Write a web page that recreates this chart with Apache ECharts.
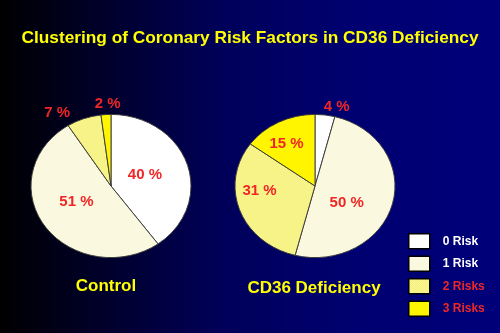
<!DOCTYPE html>
<html>
<head>
<meta charset="utf-8">
<script src="https://cdn.jsdelivr.net/npm/echarts@6/dist/echarts.min.js"></script>
<style>
  html, body { margin: 0; padding: 0; }
  #stage {
    position: relative; width: 500px; height: 333px; overflow: hidden;
    background: linear-gradient(to right, #000000 0%, #000020 15%, #00005a 45%, #000070 70%, #00007a 100%);
  }
  #pies, #overlay { position: absolute; left: 0; top: 0; width: 500px; height: 333px; }
</style>
</head>
<body>
<div id="stage">
  <div id="pies"></div>
  <div id="overlay"></div>
</div>
<script>
// ---- data ----
const riskLevels = ['0 Risk', '1 Risk', '2 Risks', '3 Risks'];
const controlShare = [40, 51, 7, 2];
const cd36Share = [4, 50, 31, 15];
const groupNames = ['Control', 'CD36 Deficiency'];
const chartTitle = 'Clustering of Coronary Risk Factors in CD36 Deficiency';

// ---- styling ----
const FONT = '"Liberation Sans", Arial, Helvetica, sans-serif';
const RED = '#F02626';
const YELLOW_TEXT = '#FFFF00';
const FLAT = 0.895;          // vertical squash of the discs
const centers = [[111, 186], [315, 186]];
const RADIUS = 80;
// small per-label nudges [dx, dy] for each pie
const labelNudge = [
  [[-7, 2], [1, -8], [-7, 7], [20, 3]],
  [[-7, 5], [-10, 6], [-15, -10], [-9, -4]]
];

function checker(a, b) {
  const c = document.createElement('canvas');
  c.width = 2; c.height = 2;
  const g = c.getContext('2d');
  g.fillStyle = a; g.fillRect(0, 0, 2, 2);
  g.fillStyle = b; g.fillRect(0, 0, 1, 1); g.fillRect(1, 1, 1, 1);
  return c;
}
const hatchCanvas = checker('#FFFFC8', '#F0E848');
const hatch = { image: hatchCanvas, repeat: 'repeat' };
const hatchFlat = { image: hatchCanvas, repeat: 'repeat', scaleY: 1 / FLAT };
const sliceColors = ['#FFFFFF', '#FAF8DF', hatch, '#FFF500'];
const discColors = ['#FFFFFF', '#FAF8DF', hatchFlat, '#FFF500'];

// ---- coloured discs ----
function discSeries(values, center) {
  return {
    type: 'pie', radius: RADIUS, center: center, startAngle: 90, clockwise: true,
    silent: true, animation: false,
    label: { show: false }, labelLine: { show: false },
    itemStyle: { borderColor: '#3a3a3a', borderWidth: 1 },
    data: riskLevels.map((n, i) => ({ name: n, value: values[i], itemStyle: { color: discColors[i] } }))
  };
}
const pies = echarts.init(document.getElementById('pies'), null, { renderer: 'canvas' });
pies.setOption({
  backgroundColor: 'transparent',
  animation: false,
  series: [discSeries(controlShare, centers[0]), discSeries(cd36Share, centers[1])]
});
// flatten each sector around the common centre line
pies.getZr().storage.getDisplayList(true).forEach(el => {
  if (el.type === 'sector') {
    el.originY = centers[0][1];
    el.scaleY = FLAT;
    el.strokeNoScale = true;
    el.markRedraw();
  }
});
pies.getZr().refresh();

// ---- percentage labels, titles and legend ----
function labelSeries(values, center) {
  return {
    type: 'pie', radius: RADIUS, center: center, startAngle: 90, clockwise: true,
    silent: true, animation: false, avoidLabelOverlap: false,
    itemStyle: { color: 'rgba(0,0,0,0)', borderWidth: 0 },
    label: {
      show: true, position: 'inside', formatter: '{c} %',
      color: RED, fontSize: 15, fontWeight: 'bold', fontFamily: FONT
    },
    labelLine: { show: false, length: 5, length2: 0 },
    labelLayout: function (p) {
      const d = labelNudge[p.seriesIndex][p.dataIndex];
      return { dx: d[0], dy: d[1], hideOverlap: false, moveOverlap: null };
    },
    data: riskLevels.map((n, i) => ({
      name: n, value: values[i],
      label: values[i] < 10 ? { position: 'outside' } : {}
    }))
  };
}

const overlay = echarts.init(document.getElementById('overlay'), null, { renderer: 'canvas' });
overlay.setOption({
  backgroundColor: 'transparent',
  animation: false,
  title: [
    { text: chartTitle, left: 'center', top: 30, padding: 0,
      textStyle: { color: YELLOW_TEXT, fontSize: 17.3, fontWeight: 'bold', fontFamily: FONT } },
    { text: groupNames[0], left: 106, textAlign: 'center', top: 278, padding: 0,
      textStyle: { color: YELLOW_TEXT, fontSize: 17, fontWeight: 'bold', fontFamily: FONT } },
    { text: groupNames[1], left: 314, textAlign: 'center', top: 280, padding: 0,
      textStyle: { color: YELLOW_TEXT, fontSize: 17, fontWeight: 'bold', fontFamily: FONT } }
  ],
  legend: {
    orient: 'vertical', left: 408, top: 233, padding: 0,
    itemWidth: 21, itemHeight: 15, itemGap: 6, icon: 'rect',
    selectedMode: false,
    itemStyle: { borderColor: '#000000', borderWidth: 1.5 },
    textStyle: { fontSize: 12, fontWeight: 'bold', fontFamily: FONT, padding: [0, 0, 0, 8] },
    data: riskLevels.map((n, i) => ({
      name: n,
      itemStyle: { color: sliceColors[i] },
      textStyle: { color: i < 2 ? '#FFFFFF' : RED }
    }))
  },
  series: [labelSeries(controlShare, centers[0]), labelSeries(cd36Share, centers[1])]
});
</script>
</body>
</html>
